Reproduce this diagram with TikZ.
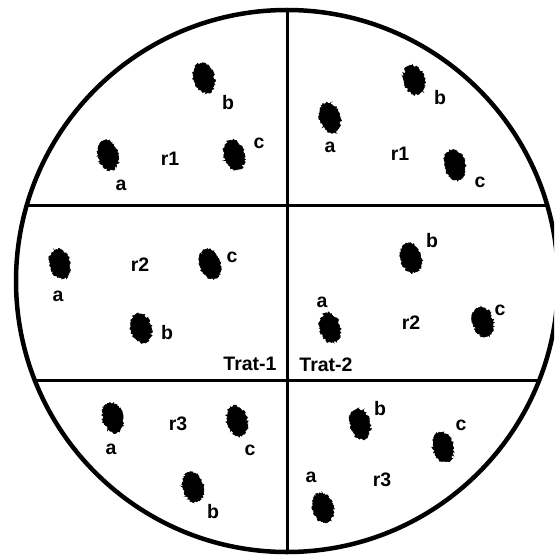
\documentclass[tikz,border=0pt]{standalone}
\usepackage{fontspec}
\setmainfont{Liberation Sans}
\usetikzlibrary{shapes.geometric,decorations.pathmorphing}
\tikzset{
  blob/.style={ellipse, fill=black, draw=black, line width=0.6pt, minimum width=20pt, minimum height=30pt, inner sep=0pt, rotate=15,
    decorate, decoration={random steps, segment length=1.1pt, amplitude=1.2pt}},
  lbl/.style={font=\fontsize{19.5}{22}\bfseries\selectfont, inner sep=0pt},
  rim/.style={line width=4.5pt},
  divider/.style={line width=3pt}
}
\begin{document}
\begin{tikzpicture}[x=1pt,y=-1pt]
\useasboundingbox (0,0) rectangle (554,559);
\begin{scope}
\clip (0,0) rectangle (554,559);
\draw[rim] (287,281) circle (271);
\end{scope}
\coordinate (top) at (287,8);
\coordinate (bot) at (287,553);
\coordinate (h1l) at (26,205);
\coordinate (h1r) at (548,205);
\coordinate (h2l) at (34,380);
\coordinate (h2r) at (540,380);
\draw[divider] (top) -- (bot);
\draw[divider] (h1l) -- (h1r);
\draw[divider] (h2l) -- (h2r);

% top-left
\node[blob] (tlb) at (204,78) {};
\node[lbl] (tlbl) at (228,103) {b};
\node[blob] (tla) at (108,155) {};
\node[lbl] (tlal) at (121,185) {a};
\node[lbl] (tlr) at (170,159) {r1};
\node[blob] (tlc) at (234,155) {};
\node[lbl] (tlcl) at (259,143) {c};

% top-right
\node[blob] (trb) at (414,80) {};
\node[lbl] (trbl) at (440,98) {b};
\node[blob] (tra) at (330,118) {};
\node[lbl] (tral) at (330,147) {a};
\node[lbl] (trr) at (400,154) {r1};
\node[blob] (trc) at (455,165) {};
\node[lbl] (trcl) at (480,182) {c};

% middle-left
\node[blob] (mla) at (60,264) {};
\node[lbl] (mlal) at (58,296) {a};
\node[lbl] (mlr) at (140,265) {r2};
\node[blob] (mlc) at (210,264) {};
\node[lbl] (mlcl) at (232,257) {c};
\node[blob] (mlb) at (141,328) {};
\node[lbl] (mlbl) at (167,333) {b};
\node[lbl] (t1) at (250,364) {Trat-1};

% middle-right
\node[blob] (mrb) at (411,258) {};
\node[lbl] (mrbl) at (432,241) {b};
\node[lbl] (mral) at (322,302) {a};
\node[blob] (mra) at (330,328) {};
\node[lbl] (mrr) at (411,323) {r2};
\node[blob] (mrc) at (483,322) {};
\node[lbl] (mrcl) at (500,310) {c};
\node[lbl] (t2) at (326,365) {Trat-2};

% bottom-left
\node[blob] (bla) at (113,418) {};
\node[lbl] (blal) at (111,449) {a};
\node[lbl] (blr) at (178,424) {r3};
\node[blob] (blc) at (237,421) {};
\node[lbl] (blcl) at (250,450) {c};
\node[blob] (blb) at (193,487) {};
\node[lbl] (blbl) at (213,512) {b};

% bottom-right
\node[blob] (brb) at (360,424) {};
\node[lbl] (brbl) at (380,409) {b};
\node[blob] (brc) at (443,447) {};
\node[lbl] (brcl) at (461,425) {c};
\node[lbl] (bral) at (311,477) {a};
\node[blob] (bra) at (323,508) {};
\node[lbl] (brr) at (382,480) {r3};
\end{tikzpicture}
\end{document}
